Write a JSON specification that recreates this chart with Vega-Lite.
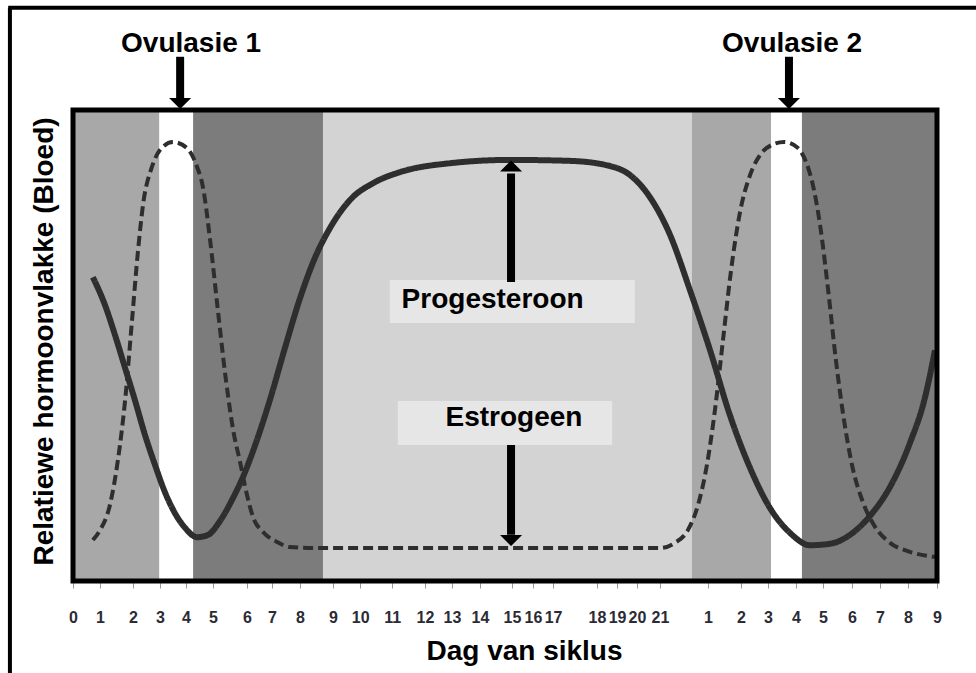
{
  "$schema": "https://vega.github.io/schema/vega-lite/v6.json",
  "width": 864,
  "height": 471,
  "autosize": "none",
  "padding": {"left": 73, "top": 110, "right": 39, "bottom": 92},
  "background": "white",
  "config": {"view": {"stroke": null}, "font": "Liberation Sans"},
  "datasets": {
    "bande": [
      {"fase": "grys", "dag": 0, "dag2": 3.0},
      {"fase": "wit", "dag": 3.0, "dag2": 4.17},
      {"fase": "donker", "dag": 4.17, "dag2": 8.68},
      {"fase": "lig", "dag": 8.68, "dag2": 21.49},
      {"fase": "grys", "dag": 21.49, "dag2": 24.24},
      {"fase": "wit", "dag": 24.24, "dag2": 25.31},
      {"fase": "donker", "dag": 25.31, "dag2": 30}
    ],
    "kurwes": [
      {"hormoon": "Progesteroon", "dag": 0.69, "vlak": 64.5},
      {"hormoon": "Progesteroon", "dag": 1.11, "vlak": 58.6},
      {"hormoon": "Progesteroon", "dag": 1.46, "vlak": 52.2},
      {"hormoon": "Progesteroon", "dag": 1.81, "vlak": 45.2},
      {"hormoon": "Progesteroon", "dag": 2.15, "vlak": 38.4},
      {"hormoon": "Progesteroon", "dag": 2.5, "vlak": 31.0},
      {"hormoon": "Progesteroon", "dag": 2.85, "vlak": 24.6},
      {"hormoon": "Progesteroon", "dag": 3.19, "vlak": 18.9},
      {"hormoon": "Progesteroon", "dag": 3.54, "vlak": 14.4},
      {"hormoon": "Progesteroon", "dag": 3.89, "vlak": 11.3},
      {"hormoon": "Progesteroon", "dag": 4.31, "vlak": 9.3},
      {"hormoon": "Progesteroon", "dag": 4.69, "vlak": 9.8},
      {"hormoon": "Progesteroon", "dag": 5.1, "vlak": 12.7},
      {"hormoon": "Progesteroon", "dag": 5.52, "vlak": 17.2},
      {"hormoon": "Progesteroon", "dag": 5.97, "vlak": 23.1},
      {"hormoon": "Progesteroon", "dag": 6.39, "vlak": 30.0},
      {"hormoon": "Progesteroon", "dag": 6.84, "vlak": 38.5},
      {"hormoon": "Progesteroon", "dag": 7.36, "vlak": 49.5},
      {"hormoon": "Progesteroon", "dag": 7.88, "vlak": 60.0},
      {"hormoon": "Progesteroon", "dag": 8.4, "vlak": 68.6},
      {"hormoon": "Progesteroon", "dag": 8.92, "vlak": 74.9},
      {"hormoon": "Progesteroon", "dag": 9.62, "vlak": 80.9},
      {"hormoon": "Progesteroon", "dag": 10.49, "vlak": 84.7},
      {"hormoon": "Progesteroon", "dag": 11.35, "vlak": 86.8},
      {"hormoon": "Progesteroon", "dag": 13.09, "vlak": 88.7},
      {"hormoon": "Progesteroon", "dag": 15.17, "vlak": 89.4},
      {"hormoon": "Progesteroon", "dag": 17.26, "vlak": 89.2},
      {"hormoon": "Progesteroon", "dag": 18.65, "vlak": 88.1},
      {"hormoon": "Progesteroon", "dag": 19.34, "vlak": 86.2},
      {"hormoon": "Progesteroon", "dag": 20.03, "vlak": 81.5},
      {"hormoon": "Progesteroon", "dag": 20.73, "vlak": 73.5},
      {"hormoon": "Progesteroon", "dag": 21.42, "vlak": 61.8},
      {"hormoon": "Progesteroon", "dag": 22.12, "vlak": 49.0},
      {"hormoon": "Progesteroon", "dag": 22.81, "vlak": 35.2},
      {"hormoon": "Progesteroon", "dag": 23.51, "vlak": 24.0},
      {"hormoon": "Progesteroon", "dag": 24.2, "vlak": 15.5},
      {"hormoon": "Progesteroon", "dag": 24.9, "vlak": 10.2},
      {"hormoon": "Progesteroon", "dag": 25.59, "vlak": 7.6},
      {"hormoon": "Progesteroon", "dag": 26.28, "vlak": 7.9},
      {"hormoon": "Progesteroon", "dag": 26.98, "vlak": 9.8},
      {"hormoon": "Progesteroon", "dag": 27.67, "vlak": 13.8},
      {"hormoon": "Progesteroon", "dag": 28.37, "vlak": 20.0},
      {"hormoon": "Progesteroon", "dag": 29.06, "vlak": 29.3},
      {"hormoon": "Progesteroon", "dag": 29.58, "vlak": 38.9},
      {"hormoon": "Progesteroon", "dag": 29.93, "vlak": 49.0},
      {"hormoon": "Estrogeen", "dag": 0.69, "vlak": 8.7},
      {"hormoon": "Estrogeen", "dag": 0.94, "vlak": 10.8},
      {"hormoon": "Estrogeen", "dag": 1.28, "vlak": 16.1},
      {"hormoon": "Estrogeen", "dag": 1.56, "vlak": 25.7},
      {"hormoon": "Estrogeen", "dag": 1.81, "vlak": 38.4},
      {"hormoon": "Estrogeen", "dag": 2.05, "vlak": 55.4},
      {"hormoon": "Estrogeen", "dag": 2.26, "vlak": 70.3},
      {"hormoon": "Estrogeen", "dag": 2.43, "vlak": 79.8},
      {"hormoon": "Estrogeen", "dag": 2.74, "vlak": 87.9},
      {"hormoon": "Estrogeen", "dag": 3.02, "vlak": 91.5},
      {"hormoon": "Estrogeen", "dag": 3.47, "vlak": 93.2},
      {"hormoon": "Estrogeen", "dag": 3.96, "vlak": 91.9},
      {"hormoon": "Estrogeen", "dag": 4.31, "vlak": 87.9},
      {"hormoon": "Estrogeen", "dag": 4.51, "vlak": 83.7},
      {"hormoon": "Estrogeen", "dag": 4.76, "vlak": 72.4},
      {"hormoon": "Estrogeen", "dag": 5.03, "vlak": 57.5},
      {"hormoon": "Estrogeen", "dag": 5.31, "vlak": 42.7},
      {"hormoon": "Estrogeen", "dag": 5.56, "vlak": 32.1},
      {"hormoon": "Estrogeen", "dag": 5.8, "vlak": 25.3},
      {"hormoon": "Estrogeen", "dag": 6.04, "vlak": 18.3},
      {"hormoon": "Estrogeen", "dag": 6.25, "vlak": 13.6},
      {"hormoon": "Estrogeen", "dag": 6.6, "vlak": 10.4},
      {"hormoon": "Estrogeen", "dag": 7.08, "vlak": 8.3},
      {"hormoon": "Estrogeen", "dag": 7.53, "vlak": 7.2},
      {"hormoon": "Estrogeen", "dag": 8.58, "vlak": 7.0},
      {"hormoon": "Estrogeen", "dag": 11.35, "vlak": 7.0},
      {"hormoon": "Estrogeen", "dag": 14.83, "vlak": 7.0},
      {"hormoon": "Estrogeen", "dag": 18.3, "vlak": 7.0},
      {"hormoon": "Estrogeen", "dag": 20.38, "vlak": 7.0},
      {"hormoon": "Estrogeen", "dag": 20.9, "vlak": 8.1},
      {"hormoon": "Estrogeen", "dag": 21.35, "vlak": 10.8},
      {"hormoon": "Estrogeen", "dag": 21.7, "vlak": 16.1},
      {"hormoon": "Estrogeen", "dag": 22.01, "vlak": 24.6},
      {"hormoon": "Estrogeen", "dag": 22.29, "vlak": 36.3},
      {"hormoon": "Estrogeen", "dag": 22.57, "vlak": 51.2},
      {"hormoon": "Estrogeen", "dag": 22.85, "vlak": 66.0},
      {"hormoon": "Estrogeen", "dag": 23.16, "vlak": 78.3},
      {"hormoon": "Estrogeen", "dag": 23.51, "vlak": 86.2},
      {"hormoon": "Estrogeen", "dag": 23.85, "vlak": 90.4},
      {"hormoon": "Estrogeen", "dag": 24.27, "vlak": 92.6},
      {"hormoon": "Estrogeen", "dag": 24.69, "vlak": 93.2},
      {"hormoon": "Estrogeen", "dag": 25.14, "vlak": 92.1},
      {"hormoon": "Estrogeen", "dag": 25.45, "vlak": 89.0},
      {"hormoon": "Estrogeen", "dag": 25.69, "vlak": 84.1},
      {"hormoon": "Estrogeen", "dag": 25.94, "vlak": 75.6},
      {"hormoon": "Estrogeen", "dag": 26.22, "vlak": 61.8},
      {"hormoon": "Estrogeen", "dag": 26.49, "vlak": 46.9},
      {"hormoon": "Estrogeen", "dag": 26.77, "vlak": 34.2},
      {"hormoon": "Estrogeen", "dag": 27.05, "vlak": 24.6},
      {"hormoon": "Estrogeen", "dag": 27.4, "vlak": 17.2},
      {"hormoon": "Estrogeen", "dag": 27.85, "vlak": 11.5},
      {"hormoon": "Estrogeen", "dag": 28.37, "vlak": 8.1},
      {"hormoon": "Estrogeen", "dag": 29.06, "vlak": 6.2},
      {"hormoon": "Estrogeen", "dag": 29.93, "vlak": 5.1}
    ],
    "kassies": [
      {"vir": "Progesteroon", "dag": 11.0, "dag2": 19.51, "vlak": 63.9, "vlak2": 54.8},
      {"vir": "Estrogeen", "dag": 11.28, "dag2": 18.72, "vlak": 38.2, "vlak2": 28.9}
    ],
    "tekste": [
      {"teks": "Ovulasie 1", "dag": 4.1, "vlak": 112.3},
      {"teks": "Ovulasie 2", "dag": 24.97, "vlak": 112.3},
      {"teks": "Progesteroon", "dag": 14.57, "vlak": 58.0},
      {"teks": "Estrogeen", "dag": 15.31, "vlak": 32.9}
    ],
    "pyle": [
      {"pyl": "Ovulasie 1", "dag": 3.72, "vlak": 111.3, "vlak2": 102.3},
      {"pyl": "Ovulasie 2", "dag": 24.86, "vlak": 111.3, "vlak2": 102.3},
      {"pyl": "Progesteroon", "dag": 15.21, "vlak": 63.5, "vlak2": 86.5},
      {"pyl": "Estrogeen", "dag": 15.21, "vlak": 28.9, "vlak2": 9.8}
    ],
    "koppe": [
      {"pyl": "Ovulasie 1", "dag": 3.72, "vlak": 101.4, "rigting": "af"},
      {"pyl": "Ovulasie 2", "dag": 24.86, "vlak": 101.4, "rigting": "af"},
      {"pyl": "Progesteroon", "dag": 15.21, "vlak": 88.1, "rigting": "op"},
      {"pyl": "Estrogeen", "dag": 15.21, "vlak": 8.6, "rigting": "af"}
    ],
    "raam": [
      {"kant": "links", "dag": -2.19, "dag2": -2.19, "vlak": -22, "vlak2": 121.7},
      {"kant": "bo", "dag": -2.25, "dag2": 33, "vlak": 121.7, "vlak2": 121.7}
    ],
    "plotraam": [
      {"dag": 0, "dag2": 30}
    ]
  },
  "encoding": {
    "x": {
      "field": "dag",
      "type": "quantitative",
      "scale": {"domain": [0, 30], "nice": false, "zero": false},
      "axis": {
        "title": "Dag van siklus",
        "values": [0, 0.94, 2.08, 3.02, 3.92, 4.86, 6.04, 6.91, 7.88, 9.03, 9.97, 11.08, 12.22, 13.16, 14.13, 15.24, 15.97, 16.67, 18.19, 18.89, 19.58, 20.38, 22.05, 23.19, 24.13, 25.1, 26.04, 27.05, 28.02, 28.99, 30],
        "labelExpr": "['0','1','2','3','4','5','6','7','8','9','10','11','12','13','14','15','16','17','18','19','20','21','1','2','3','4','5','6','7','8','9'][indexof([0, 0.94, 2.08, 3.02, 3.92, 4.86, 6.04, 6.91, 7.88, 9.03, 9.97, 11.08, 12.22, 13.16, 14.13, 15.24, 15.97, 16.67, 18.19, 18.89, 19.58, 20.38, 22.05, 23.19, 24.13, 25.1, 26.04, 27.05, 28.02, 28.99, 30], datum.value)]",
        "labelFont": "Liberation Sans",
        "labelFontSize": 16,
        "labelFontWeight": "bold",
        "labelColor": "#2b2b35",
        "labelOverlap": false,
        "labelFlush": false,
        "labelBound": false,
        "labelPadding": 34,
        "labelBaseline": "alphabetic",
        "labelAngle": 0,
        "ticks": true,
        "tickColor": "#9a9a9a",
        "tickSize": 7,
        "tickWidth": 1,
        "domain": false,
        "grid": false,
        "titleFont": "Liberation Sans",
        "titleFontSize": 28,
        "titleFontWeight": "bold",
        "titleColor": "black",
        "titleX": 451,
        "titleY": 78,
        "titleBaseline": "alphabetic",
        "titleAlign": "center"
      }
    },
    "x2": {"field": "dag2"}
  },
  "layer": [
    {
      "data": {"name": "bande"},
      "mark": {"type": "rect"},
      "encoding": {
        "color": {
          "field": "fase",
          "type": "nominal",
          "scale": {"domain": ["grys", "wit", "donker", "lig"], "range": ["#a8a8a8", "#ffffff", "#7c7c7c", "#d3d3d3"]},
          "legend": null
        }
      }
    },
    {
      "data": {"name": "kurwes"},
      "mark": {"type": "line", "interpolate": "monotone", "color": "#2e2e2e"},
      "encoding": {
        "x2": null,
        "y": {
          "field": "vlak",
          "type": "quantitative",
          "scale": {"domain": [0, 100], "nice": false, "zero": false},
          "axis": {
            "title": "Relatiewe hormoonvlakke (Bloed)",
            "labels": false,
            "ticks": false,
            "domain": false,
            "grid": false,
            "titleFont": "Liberation Sans",
            "titleFontSize": 28,
            "titleFontWeight": "bold",
            "titleColor": "black",
            "titleX": -21,
            "titleY": 231,
            "titleAngle": -90,
            "titleBaseline": "alphabetic",
            "titleAlign": "center"
          }
        },
        "strokeDash": {
          "field": "hormoon",
          "type": "nominal",
          "scale": {"domain": ["Progesteroon", "Estrogeen"], "range": [[1, 0], [10, 5]]},
          "legend": null
        },
        "strokeWidth": {
          "field": "hormoon",
          "type": "nominal",
          "scale": {"domain": ["Progesteroon", "Estrogeen"], "range": [6, 4]},
          "legend": null
        }
      }
    },
    {
      "data": {"name": "kassies"},
      "mark": {"type": "rect", "color": "#e6e6e6"},
      "encoding": {
        "y": {"field": "vlak", "type": "quantitative"},
        "y2": {"field": "vlak2"}
      }
    },
    {
      "data": {"name": "tekste"},
      "mark": {"type": "text", "font": "Liberation Sans", "fontSize": 28, "fontWeight": "bold", "color": "black", "align": "center", "baseline": "alphabetic"},
      "encoding": {
        "x2": null,
        "y": {"field": "vlak", "type": "quantitative"},
        "text": {"field": "teks", "type": "nominal"}
      }
    },
    {
      "data": {"name": "pyle"},
      "mark": {"type": "rule", "color": "black", "strokeWidth": 8},
      "encoding": {
        "x2": null,
        "y": {"field": "vlak", "type": "quantitative"},
        "y2": {"field": "vlak2"}
      }
    },
    {
      "data": {"name": "koppe"},
      "mark": {"type": "point", "filled": true, "color": "black", "opacity": 1, "size": 484},
      "encoding": {
        "x2": null,
        "y": {"field": "vlak", "type": "quantitative"},
        "shape": {
          "field": "rigting",
          "type": "nominal",
          "scale": {"domain": ["af", "op"], "range": ["M-1,-0.5L1,-0.5L0,0.5Z", "M-1,0.5L1,0.5L0,-0.5Z"]},
          "legend": null
        }
      }
    },
    {
      "data": {"name": "plotraam"},
      "mark": {"type": "rect", "fillOpacity": 0, "stroke": "black", "strokeWidth": 5}
    },
    {
      "data": {"name": "raam"},
      "mark": {"type": "rule", "color": "black", "strokeWidth": 4},
      "encoding": {
        "y": {"field": "vlak", "type": "quantitative"},
        "y2": {"field": "vlak2"}
      }
    }
  ]
}
